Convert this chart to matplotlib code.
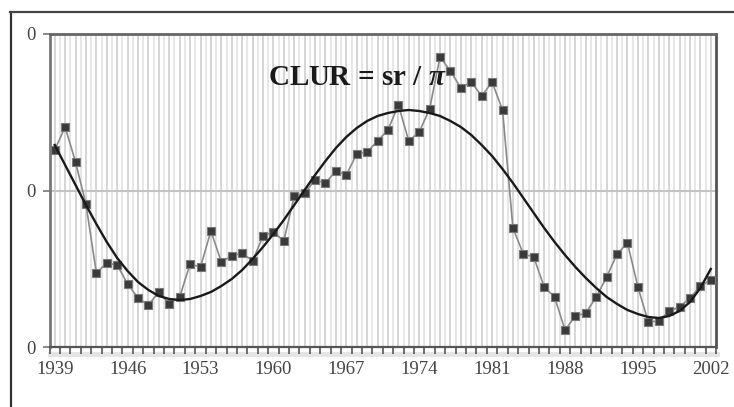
import matplotlib
matplotlib.use("Agg")
import matplotlib.pyplot as plt
from matplotlib.lines import Line2D
from matplotlib.patches import Rectangle

years = list(range(1939, 2003))
clur = [197, 220, 185, 143, 74, 84, 82, 63, 49, 42, 55, 43, 50, 83, 80, 116,
        85, 91, 94, 86, 111, 115, 106, 151, 154, 167, 164, 176, 172, 193, 195,
        206, 217, 242, 206, 215, 238, 290, 276, 259, 265, 251, 265, 237, 119,
        93, 90, 60, 50, 17, 31, 34, 50, 70, 93, 104, 60, 25, 26, 36, 40, 49,
        61, 67]
trend = [202, 182, 162, 142, 123, 105, 89, 76, 65, 57, 51, 48, 47, 48, 51, 55,
         61, 68, 77, 88, 100, 113, 127, 142, 157, 172, 186, 199, 210, 219, 226,
         231, 234, 236, 237, 236, 234, 231, 226, 220, 212, 202, 191, 178, 164,
         149, 134, 119, 105, 92, 80, 69, 59, 50, 43, 37, 33, 30, 29, 31, 36,
         45, 59, 78]
xtick_years = [1939, 1946, 1953, 1960, 1967, 1974, 1981, 1988, 1995, 2002]
ytick_vals = [0, 156.5, 313]
ytick_labels = ["0", "0", "0"]
title = r"CLUR = sr / $\pi$"

plt.rcParams['mathtext.fontset'] = 'custom'
plt.rcParams['mathtext.rm'] = 'Liberation Serif:bold'
plt.rcParams['mathtext.it'] = 'Liberation Serif:bold:italic'

W, H = 734, 407
fig = plt.figure(figsize=(W / 100, H / 100), dpi=100)
fig.patch.set_facecolor("white")
L, R, T, B = 49.5, 716, 34, 347
ax = fig.add_axes([L / W, 1 - B / H, (R - L) / W, (B - T) / H])

ax.set_xlim(years[0] - 0.5, years[-1] + 0.5)
ax.set_ylim(0, 313)

# vertical grid lines: at every year and every year boundary
for yv in years:
    ax.axvline(yv, color="#cacaca", lw=1.1, zorder=0)
for k in range(len(years) + 1):
    ax.axvline(years[0] - 0.5 + k, color="#e0e0e0", lw=1.1, zorder=0)
ax.axhline(ytick_vals[1], color="#c4c4c4", lw=1.5, zorder=0.5)

ax.plot(years, clur, color="#8a8a8a", lw=1.2, marker="s", markersize=6,
        markerfacecolor="#3a3a3a", markeredgecolor="#7a7a7a",
        markeredgewidth=0.8, zorder=3)
ax.plot(years, trend, color="#1a1a1a", lw=1.7, zorder=4,
        solid_joinstyle="round")

ax.set_xticks(xtick_years)
ax.set_xticklabels([str(y) for y in xtick_years])
ax.set_xticks([years[0] - 0.5 + k for k in range(len(years) + 1)], minor=True)
ax.tick_params(axis="x", which="major", length=0, pad=10, labelsize=13.5,
               labelcolor="#444444")
ax.tick_params(axis="x", which="minor", length=5, width=1.2, color="#555555",
               direction="out")
ax.set_yticks(ytick_vals)
ax.set_yticklabels(ytick_labels)
ax.tick_params(axis="y", which="major", length=5, width=1.2, color="#777777",
               pad=5, labelsize=13.5, labelcolor="#444444")
for lab in ax.get_xticklabels() + ax.get_yticklabels():
    lab.set_fontfamily("Liberation Serif")

for side, c, w in [("left", "#777777", 2.0), ("top", "#666666", 2.0),
                   ("right", "#555555", 2.0), ("bottom", "#555555", 1.6)]:
    ax.spines[side].set_color(c)
    ax.spines[side].set_linewidth(w)

# soft shadow under the axis tick marks
fig.add_artist(Rectangle((48 / W, 1 - 357 / H), (720 - 48) / W, 5 / H,
                         transform=fig.transFigure, facecolor="#e4e4e4",
                         edgecolor="none", zorder=-1))

fig.text(268 / W, 1 - 85 / H, title, fontsize=21, fontweight="bold",
         fontfamily="Liberation Serif", color="#1a1a1a", ha="left",
         va="baseline")

# outer frame (left and top edges)
fig.add_artist(Line2D([10.5 / W, 10.5 / W], [0, 1 - 12 / H], color="#333333",
                      lw=1.6, transform=fig.transFigure))
fig.add_artist(Line2D([10 / W, 1], [1 - 12 / H, 1 - 12 / H], color="#444444",
                      lw=1.6, transform=fig.transFigure))

fig.savefig("out.png", dpi=100, facecolor="white")
